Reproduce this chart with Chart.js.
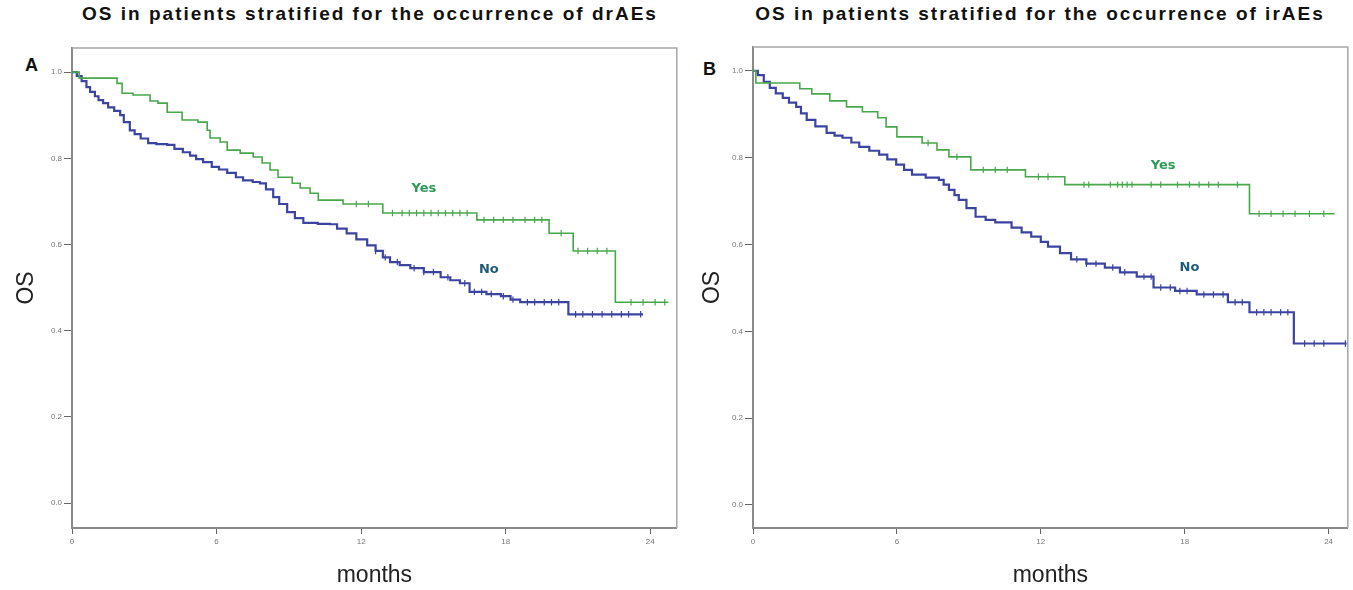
<!DOCTYPE html>
<html>
<head>
<meta charset="utf-8">
<script src="https://cdn.jsdelivr.net/npm/chart.js@4.4.0/dist/chart.umd.min.js"></script>
<style>
  html, body { margin: 0; padding: 0; background: #fff; }
  body { width: 1353px; height: 590px; position: relative; overflow: hidden;
         font-family: "Liberation Sans", Arial, sans-serif; }
  .title { position: absolute; top: 3px; width: 640px; text-align: center; white-space: nowrap;
           font-weight: bold; font-size: 19px; letter-spacing: 2px; color: #111; }
  .letter { position: absolute; font-weight: bold; font-size: 18px; color: #111; }
  canvas { position: absolute; top: 0; }
</style>
</head>
<body>
<div class="title" style="left:50px;">OS in patients stratified for the occurrence of drAEs</div>
<div class="title" style="left:720px;">OS in patients stratified for the occurrence of irAEs</div>
<div class="letter" style="left:25px; top:55px;">A</div>
<div class="letter" style="left:703px; top:59px;">B</div>
<canvas id="panelA" width="682" height="590" style="left:0px;"></canvas>
<canvas id="panelB" width="663" height="590" style="left:690px;"></canvas>

<script>
// Kaplan-Meier step curves: event times (months) and survival after each step.
const drYesTimes = [0, 0.3, 1.87, 2.08, 2.53, 3.24, 3.57, 3.95, 4.57, 5.23, 5.61, 5.73, 6.15, 6.44, 6.98,
  7.52, 7.89, 8.22, 8.55, 9.14, 9.47, 9.88, 10.22, 11.25, 12.9, 16.8, 19.8, 20.8, 22.55, 24.75];
const drYesSurv = [1.0, 0.986, 0.974, 0.951, 0.947, 0.933, 0.928, 0.907, 0.889, 0.884, 0.865, 0.847, 0.838, 0.819, 0.812,
  0.803, 0.789, 0.773, 0.756, 0.742, 0.731, 0.719, 0.703, 0.694, 0.673, 0.657, 0.626, 0.585, 0.466, 0.466];
const drYesCensor = [11.8, 12.3, 13.3, 13.7, 14.0, 14.3, 14.6, 14.9, 15.2, 15.5, 15.8, 16.1, 16.4,
  17.1, 17.5, 17.9, 18.3, 18.8, 19.2, 19.5, 20.3, 21.0, 21.4, 21.8, 22.2, 23.2, 23.7, 24.2, 24.6];

const drNoTimes = [0, 0.2, 0.4, 0.6, 0.75, 0.95, 1.1, 1.29, 1.5, 1.75, 2.0, 2.15, 2.4, 2.6, 2.85, 3.16, 3.5, 3.95,
  4.25, 4.6, 4.9, 5.15, 5.44, 5.8, 6.1, 6.44, 6.8, 7.1, 7.5, 7.8, 8.05, 8.35, 8.6, 8.93, 9.25, 9.6, 10.2, 10.7,
  11.0, 11.4, 11.8, 12.25, 12.6, 12.9, 13.2, 13.6, 14.04, 14.6, 15.3, 15.7, 16.1, 16.5, 17.2, 17.8, 18.2, 18.6,
  20.6, 23.7];
const drNoSurv = [1.0, 0.991, 0.979, 0.965, 0.954, 0.944, 0.935, 0.928, 0.918, 0.910, 0.900, 0.884, 0.865, 0.856,
  0.846, 0.835, 0.833, 0.831, 0.822, 0.814, 0.806, 0.798, 0.791, 0.780, 0.774, 0.766, 0.756, 0.749, 0.745, 0.742,
  0.728, 0.710, 0.694, 0.675, 0.661, 0.650, 0.648, 0.647, 0.637, 0.626, 0.612, 0.598, 0.585, 0.570, 0.559, 0.552,
  0.545, 0.536, 0.524, 0.517, 0.510, 0.490, 0.485, 0.480, 0.472, 0.466, 0.438, 0.438];
const drNoCensor = [12.6, 13.0, 13.5, 14.2, 14.6, 15.0, 15.6, 16.3, 16.7, 17.0, 17.4, 17.9, 18.3, 18.9, 19.2,
  19.6, 19.9, 20.2, 20.9, 21.2, 21.6, 22.0, 22.4, 22.8, 23.1, 23.6];

const irYesTimes = [0, 0.12, 1.95, 2.45, 3.2, 3.9, 4.56, 5.2, 5.55, 6.0, 7.05, 7.67, 8.17, 9.08, 11.36, 13.0,
  20.7, 24.25];
const irYesSurv = [1.0, 0.972, 0.959, 0.947, 0.931, 0.917, 0.906, 0.892, 0.871, 0.848, 0.834, 0.818, 0.802,
  0.772, 0.756, 0.738, 0.671, 0.671];
const irYesCensor = [7.3, 8.5, 9.6, 10.1, 10.6, 11.9, 12.3, 13.8, 14.0, 14.9, 15.2, 15.4, 15.6, 15.8, 16.6,
  17.0, 17.7, 18.2, 18.6, 19.0, 19.4, 20.2, 21.1, 21.6, 22.1, 22.6, 23.2, 23.8];

const irNoTimes = [0, 0.2, 0.45, 0.7, 0.95, 1.24, 1.5, 1.8, 2.0, 2.24, 2.6, 3.07, 3.4, 3.73, 4.1, 4.43, 4.85,
  5.26, 5.6, 5.97, 6.3, 6.63, 7.2, 7.75, 7.95, 8.17, 8.4, 8.58, 8.9, 9.28, 9.7, 10.1, 10.78, 11.2, 11.6, 12.0,
  12.3, 12.8, 13.26, 13.9, 14.67, 15.3, 16.0, 16.7, 17.6, 18.5, 19.8, 20.7, 22.55, 24.75];
const irNoSurv = [1.0, 0.99, 0.975, 0.961, 0.948, 0.938, 0.927, 0.917, 0.902, 0.887, 0.872, 0.857, 0.851, 0.846,
  0.835, 0.825, 0.816, 0.807, 0.796, 0.784, 0.772, 0.761, 0.754, 0.749, 0.738, 0.726, 0.714, 0.703, 0.684, 0.664,
  0.657, 0.651, 0.639, 0.628, 0.618, 0.606, 0.595, 0.580, 0.566, 0.556, 0.547, 0.536, 0.526, 0.501, 0.493, 0.485,
  0.467, 0.444, 0.372, 0.372];
const irNoCensor = [13.5, 13.9, 14.3, 15.0, 15.5, 16.3, 16.6, 17.0, 17.4, 17.8, 18.1, 18.8, 19.2, 19.6, 20.1,
  20.4, 21.0, 21.3, 21.6, 22.0, 22.3, 23.0, 23.4, 23.8, 24.7];

// Axis ticks
const monthTicks = [0, 6, 12, 18, 24];
const osTicks = [0.0, 0.2, 0.4, 0.6, 0.8, 1.0];

const GREEN = '#46a84a';
const BLUE = '#3b44a0';

// Survival value of a step curve at time t
function survAt(times, surv, t) {
  let s = surv[0];
  for (let i = 0; i < times.length; i++) {
    if (times[i] <= t) s = surv[i]; else break;
  }
  return s;
}

function curveDataset(times, surv, color, width) {
  return {
    data: times.map((t, i) => ({ x: t, y: surv[i] })),
    borderColor: color, borderWidth: width, stepped: true,
    pointRadius: 0, fill: false, order: 2
  };
}

function censorDataset(censor, times, surv, color) {
  return {
    data: censor.map(t => ({ x: t, y: survAt(times, surv, t) })),
    showLine: false, pointStyle: 'line', rotation: 90, pointRadius: 3.2,
    pointBorderWidth: 1.2, pointBorderColor: color, borderColor: color, order: 1
  };
}

// Plot frame (top and right edges)
const framePlugin = {
  id: 'frame',
  beforeDatasetsDraw(chart) {
    const { ctx, chartArea: a } = chart;
    ctx.save();
    ctx.strokeStyle = '#a6a6a6';
    ctx.lineWidth = 1.5;
    ctx.beginPath();
    ctx.moveTo(a.left, a.top); ctx.lineTo(a.right, a.top); ctx.lineTo(a.right, a.bottom);
    ctx.stroke();
    ctx.restore();
  }
};

// Group labels placed next to their curves
const groupLabelPlugin = {
  id: 'groupLabels',
  afterDatasetsDraw(chart, args, opts) {
    const { ctx, scales: { x, y } } = chart;
    ctx.save();
    ctx.font = 'bold 13px "DejaVu Sans", Verdana, sans-serif';
    ctx.textAlign = 'center';
    ctx.textBaseline = 'middle';
    (opts.items || []).forEach(it => {
      ctx.fillStyle = it.color;
      ctx.fillText(it.text, x.getPixelForValue(it.x), y.getPixelForValue(it.y));
    });
    ctx.restore();
  }
};

function makePanel(id, datasets, yWidth, padTop, padRight, xMax, yMin, yMax, titlePad, labels) {
  return new Chart(document.getElementById(id), {
    type: 'line',
    data: { datasets },
    plugins: [framePlugin, groupLabelPlugin],
    options: {
      responsive: false, animation: false, devicePixelRatio: 1,
      layout: { padding: { top: padTop, right: padRight, bottom: 0, left: 0 } },
      plugins: {
        legend: { display: false }, tooltip: { enabled: false },
        groupLabels: { items: labels }
      },
      scales: {
        x: {
          type: 'linear', min: 0, max: xMax,
          afterBuildTicks: s => { s.ticks = monthTicks.map(v => ({ value: v })); },
          afterFit: s => { s.height = 62; },
          grid: { drawOnChartArea: false, drawTicks: true, tickLength: 6, color: '#666' },
          border: { color: '#8a8a8a', width: 2 },
          ticks: { font: { size: 8, family: '"Liberation Sans", Arial' }, color: '#777', padding: 3,
                   maxRotation: 0, callback: v => String(v) },
          title: { display: true, text: 'months', color: '#222',
                   font: { size: 23, family: '"Liberation Sans", Arial' }, padding: { top: 0, bottom: 1 } }
        },
        y: {
          type: 'linear', min: yMin, max: yMax,
          afterBuildTicks: s => { s.ticks = osTicks.map(v => ({ value: v })); },
          afterFit: s => { s.width = yWidth; },
          grid: { drawOnChartArea: false, drawTicks: true, tickLength: 8, color: '#666' },
          border: { color: '#8a8a8a', width: 2 },
          ticks: { font: { size: 8, family: '"Liberation Sans", Arial' }, color: '#777', padding: 2,
                   callback: v => v.toFixed(1) },
          title: { display: true, text: 'OS', color: '#222',
                   font: { size: 23, family: '"Liberation Sans", Arial' }, padding: { top: titlePad, bottom: 0 } }
        }
      }
    }
  });
}

makePanel('panelA', [
  curveDataset(drYesTimes, drYesSurv, GREEN, 1.6),
  curveDataset(drNoTimes, drNoSurv, BLUE, 2.2),
  censorDataset(drYesCensor, drYesTimes, drYesSurv, GREEN),
  censorDataset(drNoCensor, drNoTimes, drNoSurv, BLUE)
], 72, 48, 5, 25.1, -0.058, 1.056, 13, [
  { text: 'Yes', x: 14.6, y: 0.729, color: '#2a9a55' },
  { text: 'No', x: 17.3, y: 0.541, color: '#1d5b78' }
]);

makePanel('panelB', [
  curveDataset(irYesTimes, irYesSurv, GREEN, 1.6),
  curveDataset(irNoTimes, irNoSurv, BLUE, 2.2),
  censorDataset(irYesCensor, irYesTimes, irYesSurv, GREEN),
  censorDataset(irNoCensor, irNoTimes, irNoSurv, BLUE)
], 63, 47, 2, 24.8, -0.053, 1.055, 9, [
  { text: 'Yes', x: 17.1, y: 0.782, color: '#2a9a55' },
  { text: 'No', x: 18.2, y: 0.547, color: '#1d5b78' }
]);
</script>
</body>
</html>
